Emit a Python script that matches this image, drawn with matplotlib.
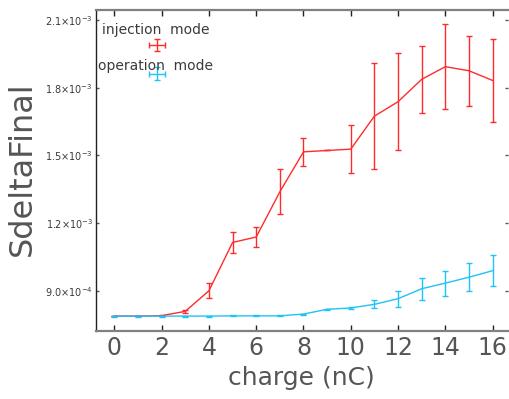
import numpy as np
import matplotlib
matplotlib.use("Agg")
import matplotlib.pyplot as plt

### data
charge = [0, 1, 2, 3, 4, 5, 6, 7, 8, 9, 10, 11, 12, 13, 14, 15, 16]

injection = [0.789e-3, 0.789e-3, 0.791e-3, 0.810e-3, 0.901e-3, 1.115e-3, 1.139e-3,
             1.339e-3, 1.516e-3, 1.522e-3, 1.528e-3, 1.674e-3, 1.738e-3, 1.837e-3,
             1.893e-3, 1.875e-3, 1.832e-3]
injection_err = [0.001e-3, 0.001e-3, 0.002e-3, 0.007e-3, 0.034e-3, 0.048e-3, 0.043e-3,
                 0.100e-3, 0.062e-3, 0.0, 0.105e-3, 0.236e-3, 0.214e-3, 0.147e-3,
                 0.187e-3, 0.155e-3, 0.184e-3]

operation = [0.789e-3, 0.789e-3, 0.789e-3, 0.789e-3, 0.789e-3, 0.790e-3, 0.790e-3,
             0.790e-3, 0.798e-3, 0.819e-3, 0.825e-3, 0.841e-3, 0.866e-3, 0.910e-3,
             0.935e-3, 0.961e-3, 0.990e-3]
operation_err = [0.002e-3, 0.002e-3, 0.002e-3, 0.002e-3, 0.002e-3, 0.002e-3, 0.002e-3,
                 0.002e-3, 0.002e-3, 0.003e-3, 0.003e-3, 0.017e-3, 0.035e-3, 0.049e-3,
                 0.055e-3, 0.063e-3, 0.069e-3]

xticks = [0, 2, 4, 6, 8, 10, 12, 14, 16]
yticks = [0.9e-3, 1.2e-3, 1.5e-3, 1.8e-3, 2.1e-3]
ytick_labels = [r"$9.0{\times}10^{-4}$", r"$1.2{\times}10^{-3}$", r"$1.5{\times}10^{-3}$",
                r"$1.8{\times}10^{-3}$", r"$2.1{\times}10^{-3}$"]

red = "#ff2b2b"
blue = "#1ec3f7"
txt = "#3a3a3a"
big = "#555555"

plt.rcParams["mathtext.fontset"] = "dejavusans"

fig = plt.figure(figsize=(5.09, 3.99), dpi=100)
ax = fig.add_axes([0.188, 0.171, 0.810, 0.804])

ax.errorbar(charge, injection, yerr=injection_err, color=red, lw=1.0,
            elinewidth=1.0, capsize=2.2, capthick=1.0)
ax.errorbar(charge, operation, yerr=operation_err, color=blue, lw=1.0,
            elinewidth=1.0, capsize=2.2, capthick=1.0)

ax.set_xlim(-0.79, 16.65)
ax.set_ylim(0.724e-3, 2.144e-3)
ax.set_xticks(xticks)
ax.set_xticklabels([str(t) for t in xticks], fontsize=17, color=big)
ax.set_yticks(yticks)
ax.set_yticklabels(ytick_labels, fontsize=7, color=txt)
ax.tick_params(axis="x", direction="in", length=4, width=1, top=True, pad=4, color="#222222")
ax.tick_params(axis="y", direction="in", length=2, width=1, right=True, pad=2, color="#555555")

for s in ["top", "bottom"]:
    ax.spines[s].set_color("#808080")
    ax.spines[s].set_linewidth(1.6)
ax.spines["left"].set_color("#222222")
ax.spines["left"].set_linewidth(1.0)
ax.spines["right"].set_visible(False)

ax.set_xlabel("charge (nC)", fontsize=18, color=big, labelpad=4)
fig.text(22 / 509, 0.578, "SdeltaFinal", fontsize=23, color=big, rotation=90,
         ha="center", va="center")

# legend: label text with the key drawn underneath
ax.text(0.015, 0.937, "injection  mode", transform=ax.transAxes, fontsize=10,
        color=txt, va="center", ha="left")
ax.text(0.006, 0.826, "operation  mode", transform=ax.transAxes, fontsize=10,
        color=txt, va="center", ha="left")
for yk, c in [(0.891, red), (0.801, blue)]:
    ax.errorbar([0.149], [yk], xerr=[0.02], yerr=[0.02], transform=ax.transAxes,
                color=c, lw=1.0, capsize=2.2, capthick=1.0, clip_on=False)

fig.savefig("out.png", dpi=100)
